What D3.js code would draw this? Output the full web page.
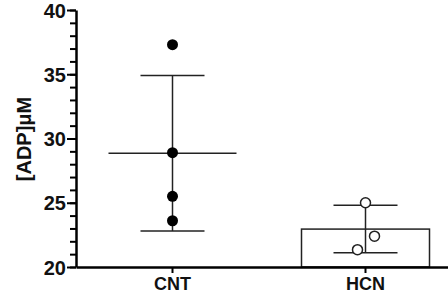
<!DOCTYPE html>
<html>
<head>
<meta charset="utf-8">
<script src="https://cdn.jsdelivr.net/npm/d3@7"></script>
<style>
  html, body { margin: 0; padding: 0; background: #fff; }
  svg { display: block; font-family: Arial, "Liberation Sans", sans-serif; }
</style>
</head>
<body>
<svg id="chart" width="448" height="301"></svg>
<script>
const categories = ['CNT', 'HCN'];
const cntValues = [37.3, 28.9, 25.5, 23.6];
const hcnValues = [25.0, 22.4, 21.35];
const means = [28.85, 22.95];
const sds = [6.05, 1.85];
const yTicks = [20, 25, 30, 35, 40];

const svg = d3.select('#chart');
const x0 = 76, yTop = 10, yBottom = 267;

const y = d3.scaleLinear().domain([20, 40]).range([yBottom, yTop]);
const x = d3.scaleBand().domain(categories).range([x0, x0 + 386]).padding(0);
const cx = c => x(c) + x.bandwidth() / 2;

// minor ticks
const minorAxis = d3.axisLeft(y).tickValues(d3.range(20, 41, 1)).tickSize(6).tickFormat('').tickSizeOuter(0);
svg.append('g').attr('transform', `translate(${x0},0)`).call(minorAxis)
  .call(g => g.select('.domain').remove())
  .call(g => g.selectAll('line').attr('stroke', '#000').attr('stroke-width', 2));

const yAxis = d3.axisLeft(y).tickValues(yTicks).tickSize(9).tickSizeOuter(0).tickPadding(1);
svg.append('g').attr('transform', `translate(${x0},0)`).call(yAxis)
  .call(g => g.select('.domain').attr('stroke', '#000').attr('stroke-width', 2.5))
  .call(g => g.selectAll('line').attr('stroke', '#000').attr('stroke-width', 2))
  .call(g => g.selectAll('text').attr('font-size', 20).attr('font-weight', 'bold').attr('fill', '#111').attr('dy', '0.36em'));

// HCN bar (drawn before x axis)
const barW = 128;
svg.append('rect')
  .attr('x', cx('HCN') - barW / 2)
  .attr('y', y(means[1]))
  .attr('width', barW)
  .attr('height', y(20) - y(means[1]))
  .attr('fill', '#fff')
  .attr('stroke', '#222')
  .attr('stroke-width', 1.5);

const xAxis = d3.axisBottom(x).tickSize(6).tickSizeOuter(0).tickPadding(4);
svg.append('g').attr('transform', `translate(0,${yBottom})`).call(xAxis)
  .call(g => g.select('.domain').attr('stroke', '#000').attr('stroke-width', 2.5))
  .call(g => g.selectAll('line').attr('stroke', '#000').attr('stroke-width', 2))
  .call(g => g.selectAll('text').attr('font-size', 18).attr('font-weight', 'bold').attr('fill', '#111'));

// error bars
const capW = 64;
categories.forEach((c, i) => {
  const g = svg.append('g').attr('stroke', '#222').attr('stroke-width', 1.5);
  const xc = cx(c);
  g.append('line').attr('x1', xc).attr('x2', xc).attr('y1', y(means[i] + sds[i])).attr('y2', y(means[i] - sds[i]));
  g.append('line').attr('x1', xc - capW / 2).attr('x2', xc + capW / 2).attr('y1', y(means[i] + sds[i])).attr('y2', y(means[i] + sds[i]));
  g.append('line').attr('x1', xc - capW / 2).attr('x2', xc + capW / 2).attr('y1', y(means[i] - sds[i])).attr('y2', y(means[i] - sds[i]));
});
// CNT mean line
svg.append('line')
  .attr('x1', cx('CNT') - barW / 2).attr('x2', cx('CNT') + barW / 2)
  .attr('y1', y(means[0])).attr('y2', y(means[0]))
  .attr('stroke', '#222').attr('stroke-width', 1.5);

// points
svg.selectAll('.cnt').data(cntValues).join('circle')
  .attr('cx', cx('CNT')).attr('cy', d => y(d)).attr('r', 5.5).attr('fill', '#000');

const jitter = [0, 9, -8];
svg.selectAll('.hcn').data(hcnValues).join('circle')
  .attr('cx', (d, i) => cx('HCN') + jitter[i]).attr('cy', d => y(d)).attr('r', 5)
  .attr('fill', '#fff').attr('stroke', '#222').attr('stroke-width', 1.5);

// y label
svg.append('text')
  .attr('transform', 'translate(31,139) rotate(-90)')
  .attr('text-anchor', 'middle')
  .attr('font-size', 20).attr('font-weight', 'bold').attr('fill', '#111')
  .text('[ADP]μM');
</script>
</body>
</html>
